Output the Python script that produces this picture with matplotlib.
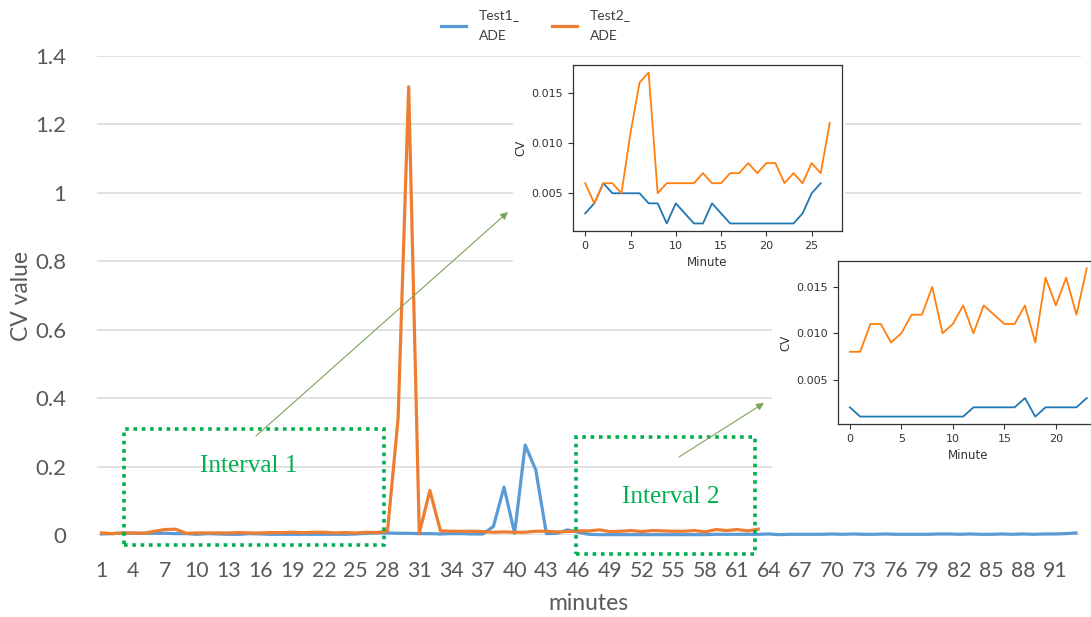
import matplotlib
matplotlib.use("Agg")
import matplotlib.pyplot as plt
from matplotlib.patches import Rectangle, FancyArrowPatch
from matplotlib.ticker import MultipleLocator

# ---------------- data ----------------
minutes = list(range(1, 94))
xtick_minutes = minutes[::3]

test1_ade = [0.003, 0.004, 0.006, 0.005, 0.005, 0.005, 0.005, 0.004, 0.004, 0.002,
             0.004, 0.003, 0.002, 0.002, 0.004, 0.003, 0.002, 0.002, 0.002, 0.002,
             0.002, 0.002, 0.002, 0.002, 0.003, 0.005, 0.006,
             0.006, 0.005, 0.005, 0.004, 0.004, 0.003, 0.004, 0.004, 0.003, 0.003,
             0.025, 0.14, 0.005, 0.263, 0.19, 0.004, 0.005, 0.015, 0.008,
             0.002, 0.001, 0.001, 0.001, 0.001, 0.001, 0.001, 0.001, 0.001, 0.001,
             0.001, 0.001, 0.002, 0.002, 0.002, 0.002, 0.002, 0.003, 0.001, 0.002,
             0.002, 0.002, 0.002, 0.003,
             0.002, 0.003, 0.002, 0.002, 0.003, 0.002, 0.002, 0.002, 0.002, 0.003,
             0.003, 0.002, 0.003, 0.002, 0.002, 0.003, 0.002, 0.003, 0.002, 0.003,
             0.003, 0.004, 0.006]

test2_ade = [0.006, 0.004, 0.006, 0.006, 0.005, 0.011, 0.016, 0.017, 0.005, 0.006,
             0.006, 0.006, 0.006, 0.007, 0.006, 0.006, 0.007, 0.007, 0.008, 0.007,
             0.008, 0.008, 0.006, 0.007, 0.006, 0.008, 0.007, 0.012,
             0.34, 1.31, 0.005, 0.13, 0.012, 0.011, 0.011, 0.011, 0.010, 0.008, 0.009,
             0.008, 0.008, 0.011, 0.011, 0.009, 0.010, 0.012, 0.012, 0.015, 0.010,
             0.011, 0.013, 0.010, 0.013, 0.012, 0.011, 0.011, 0.013, 0.009, 0.016,
             0.013, 0.016, 0.012, 0.017]
test2_minutes = minutes[:len(test2_ade)]

yticks = [0, 0.2, 0.4, 0.6, 0.8, 1.0, 1.2, 1.4]
ytick_labels = ["0", "0.2", "0.4", "0.6", "0.8", "1", "1.2", "1.4"]

# inset 1 (Interval 1)
in1_min_t1 = list(range(27))
in1_t1 = [0.003, 0.004, 0.006, 0.005, 0.005, 0.005, 0.005, 0.004, 0.004, 0.002,
          0.004, 0.003, 0.002, 0.002, 0.004, 0.003, 0.002, 0.002, 0.002, 0.002,
          0.002, 0.002, 0.002, 0.002, 0.003, 0.005, 0.006]
in1_min_t2 = list(range(28))
in1_t2 = [0.006, 0.004, 0.006, 0.006, 0.005, 0.011, 0.016, 0.017, 0.005, 0.006,
          0.006, 0.006, 0.006, 0.007, 0.006, 0.006, 0.007, 0.007, 0.008, 0.007,
          0.008, 0.008, 0.006, 0.007, 0.006, 0.008, 0.007, 0.012]

# inset 2 (Interval 2)
in2_min = list(range(24))
in2_t1 = [0.002, 0.001, 0.001, 0.001, 0.001, 0.001, 0.001, 0.001, 0.001, 0.001,
          0.001, 0.001, 0.002, 0.002, 0.002, 0.002, 0.002, 0.003, 0.001, 0.002,
          0.002, 0.002, 0.002, 0.003]
in2_t2 = [0.008, 0.008, 0.011, 0.011, 0.009, 0.010, 0.012, 0.012, 0.015, 0.010,
          0.011, 0.013, 0.010, 0.013, 0.012, 0.011, 0.011, 0.013, 0.009, 0.016,
          0.013, 0.016, 0.012, 0.017]

# ---------------- figure ----------------
W, H = 1091, 617
fig = plt.figure(figsize=(W / 100, H / 100), dpi=100)
fig.patch.set_facecolor("white")

def fx(px):
    return px / W

def fy(py):
    return 1 - py / H

MAIN_FONT = ["Lato", "DejaVu Sans"]
GRAY = "#595959"
BLUE = "#5B9BD5"
ORANGE = "#ED7D31"
GREEN = "#00B050"

ax = fig.add_axes([fx(97), fy(535), fx(1080.5) - fx(97), fy(56) - fy(535)])
ax.set_zorder(0)
l1, = ax.plot(minutes, test1_ade, color=BLUE, lw=2.3, clip_on=False, zorder=3,
              solid_joinstyle="round")
l2, = ax.plot(test2_minutes, test2_ade, color=ORANGE, lw=2.3, clip_on=False, zorder=4,
              solid_joinstyle="round")
ax.set_xlim(0.575, 93.425)
ax.set_ylim(0, 1.4)
ax.set_yticks(yticks)
ax.set_yticklabels(ytick_labels, fontfamily=MAIN_FONT, fontsize=16, color=GRAY)
ax.set_xticks(xtick_minutes)
ax.set_xticklabels([str(m) for m in xtick_minutes], fontfamily=MAIN_FONT,
                   fontsize=15.3, color=GRAY)
ax.tick_params(axis="both", length=0)
ax.tick_params(axis="y", pad=22)
ax.tick_params(axis="x", pad=19)
for s in ax.spines.values():
    s.set_visible(False)
ax.grid(axis="y", color="#D9D9D9", lw=1.1)
ax.set_axisbelow(True)

fig.text(fx(22), fy(296), "CV value", rotation=90, ha="center", va="center",
         fontfamily=MAIN_FONT, fontsize=16.5, color=GRAY)
fig.text(fx(588), fy(604), "minutes", ha="center", va="center",
         fontfamily=MAIN_FONT, fontsize=16.5, color=GRAY)

leg = fig.legend([l1, l2], ["Test1_\nADE", "Test2_\nADE"], loc="center",
                 bbox_to_anchor=(fx(536), fy(26)), ncol=2, frameon=False,
                 prop={"family": MAIN_FONT, "size": 10}, labelcolor="#404040",
                 handlelength=1.8, handletextpad=0.9, columnspacing=2.3)
for t in leg.get_texts():
    t.set_linespacing(1.9)

# interval boxes
for (x0, y0, x1, y1) in [(124, 429, 384, 545), (576, 437, 755, 554)]:
    fig.add_artist(Rectangle((fx(x0), fy(y1)), fx(x1) - fx(x0), fy(y0) - fy(y1),
                             transform=fig.transFigure, fill=False, edgecolor=GREEN,
                             lw=2.6, linestyle=(0, (1, 1.3)), zorder=5))
fig.text(fx(249), fy(466), "Interval 1", ha="center", va="center",
         fontfamily="Liberation Serif", fontsize=18.2, color=GREEN, zorder=6)
fig.text(fx(671), fy(497), "Interval 2", ha="center", va="center",
         fontfamily="Liberation Serif", fontsize=18.2, color=GREEN, zorder=6)

# arrows
for (xa, ya, xb, yb) in [(256, 436, 508, 212), (679, 457, 764, 403)]:
    fig.add_artist(FancyArrowPatch((fx(xa), fy(ya)), (fx(xb), fy(yb)),
                                   transform=fig.transFigure, arrowstyle="-|>",
                                   mutation_scale=11, color="#7AA55A", lw=0.8,
                                   shrinkA=0, shrinkB=0, zorder=6))

# white backgrounds of pasted insets
for (x0, y0, x1, y1) in [(513, 58, 845, 280), (772, 255, 1091, 475)]:
    fig.add_artist(Rectangle((fx(x0), fy(y1)), fx(x1) - fx(x0), fy(y0) - fy(y1),
                             transform=fig.transFigure, facecolor="white",
                             edgecolor="none", zorder=1))

INK = "#333333"

def style_inset(a):
    for s in a.spines.values():
        s.set_color(INK)
        s.set_linewidth(0.9)
    a.tick_params(labelsize=8, colors=INK, length=3.5, width=0.8)
    a.yaxis.set_major_locator(MultipleLocator(0.005))
    a.xaxis.set_major_locator(MultipleLocator(5))
    a.set_xlabel("Minute", fontsize=8.5, color=INK, labelpad=4)
    a.set_ylabel("CV", fontsize=8.5, color=INK, labelpad=3)

ax1 = fig.add_axes([fx(573), fy(231), fx(842) - fx(573), fy(65) - fy(231)])
ax1.set_zorder(2)
ax1.plot(in1_min_t1, in1_t1, color="#1f77b4", lw=1.3)
ax1.plot(in1_min_t2, in1_t2, color="#ff7f0e", lw=1.3)
style_inset(ax1)

ax2 = fig.add_axes([fx(838), fy(424), fx(1098.6) - fx(838), fy(261) - fy(424)])
ax2.set_zorder(2)
ax2.plot(in2_min, in2_t1, color="#1f77b4", lw=1.3)
ax2.plot(in2_min, in2_t2, color="#ff7f0e", lw=1.3)
style_inset(ax2)

fig.savefig("out.png", dpi=100, facecolor="white")
